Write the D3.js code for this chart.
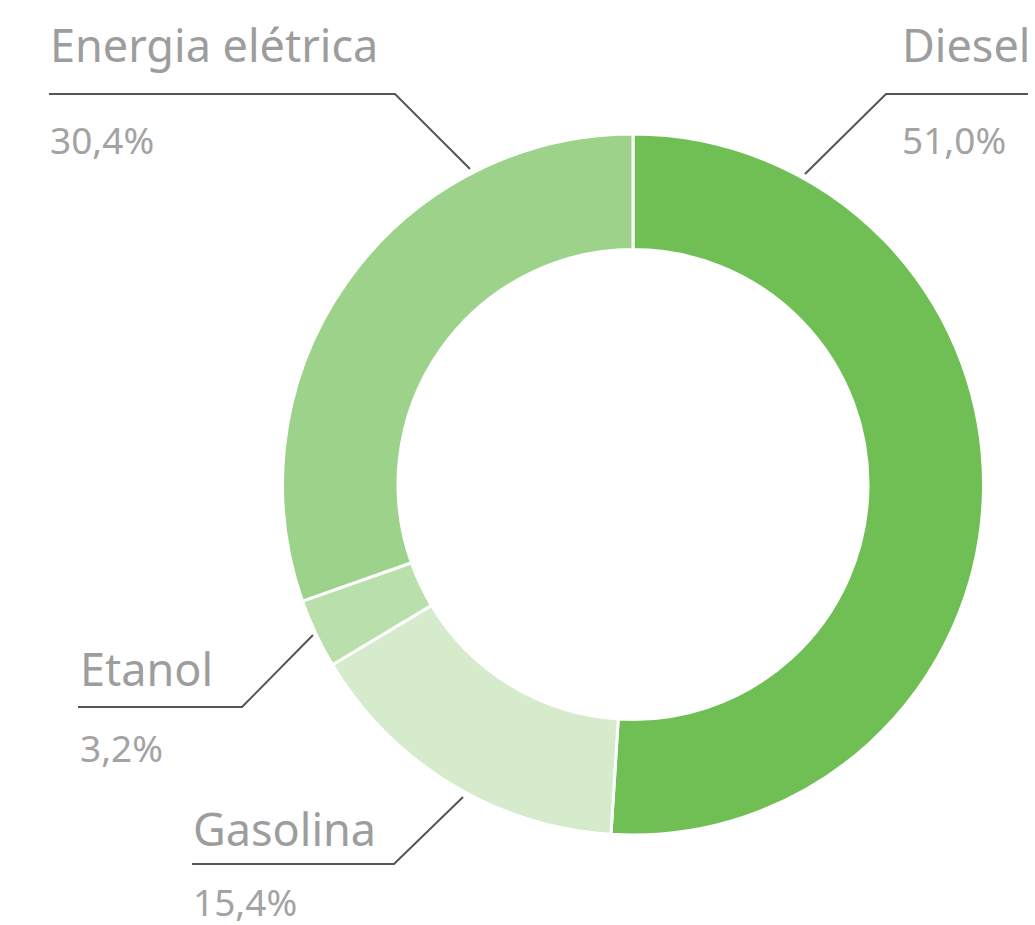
<!DOCTYPE html>
<html lang="pt">
    <head>
        <meta charset="utf-8">
        <title>Consumo por fonte</title>
        <script type="text/javascript" src="https://cdn.jsdelivr.net/npm/d3@7"></script>
        <style>
            body { margin: 0; background: #fff; }
        </style>
    </head>
    <body>
        <script type="text/javascript">

        //Width and height
        var w = 1035;
        var h = 925;

        //Data, clockwise from the top
        var categories = ["Diesel", "Gasolina", "Etanol", "Energia elétrica"];
        var values = [51.0, 15.4, 3.2, 30.4];
        var percentLabels = ["51,0%", "15,4%", "3,2%", "30,4%"];
        var colors = ["#70bf54", "#d5ebcc", "#b9e0aa", "#9dd28a"];

        //Label layout: text anchor x, name baseline, rule y, rule ends, leader tip
        var labelLayout = [
            { x: 902, y: 62, ruleY: 94, x0: 1028, x1: 886, tip: [805, 174], pctY: 154 },
            { x: 193, y: 846, ruleY: 864, x0: 192, x1: 394, tip: [463, 797], pctY: 916 },
            { x: 80, y: 686, ruleY: 707, x0: 78, x1: 242, tip: [313, 635], pctY: 762 },
            { x: 50, y: 62, ruleY: 94, x0: 49, x1: 395, tip: [470, 169], pctY: 154 }
        ];

        var cx = 633, cy = 484.5;
        var outerR = 350.5, innerR = 235;

        var dataset = categories.map(function(c, i) {
            return { name: c, value: values[i], pct: percentLabels[i], color: colors[i], lay: labelLayout[i] };
        });

        var pie = d3.pie()
            .sort(null)
            .value(function(d) { return d.value; });

        var arc = d3.arc()
            .innerRadius(innerR)
            .outerRadius(outerR);

        //Create SVG element
        var svg = d3.select("body")
            .append("svg")
            .attr("width", w)
            .attr("height", h);

        //Donut slices
        svg.append("g")
            .attr("transform", "translate(" + cx + "," + cy + ")")
            .selectAll("path")
            .data(pie(dataset))
            .enter()
            .append("path")
            .attr("d", arc)
            .attr("fill", function(d) { return d.data.color; })
            .attr("stroke", "#fff")
            .attr("stroke-width", 3);

        //Leader lines
        svg.selectAll("polyline.leader")
            .data(dataset)
            .enter()
            .append("polyline")
            .attr("class", "leader")
            .attr("points", function(d) {
                var l = d.lay;
                return [[l.x0, l.ruleY], [l.x1, l.ruleY], l.tip].join(" ");
            })
            .attr("fill", "none")
            .attr("stroke", "#555")
            .attr("stroke-width", 2);

        //Category names
        svg.selectAll("text.name")
            .data(dataset)
            .enter()
            .append("text")
            .attr("class", "name")
            .text(function(d) { return d.name; })
            .attr("x", function(d) { return d.lay.x; })
            .attr("y", function(d) { return d.lay.y; })
            .attr("font-family", "'Noto Sans', sans-serif")
            .attr("font-size", "45px")
            .attr("fill", "#9d9d9d");

        //Percentages
        svg.selectAll("text.pct")
            .data(dataset)
            .enter()
            .append("text")
            .attr("class", "pct")
            .text(function(d) { return d.pct; })
            .attr("x", function(d) { return d.lay.x; })
            .attr("y", function(d) { return d.lay.pctY; })
            .attr("font-family", "'Noto Sans', sans-serif")
            .attr("font-size", "37px")
            .attr("fill", "#a3a3a3");

        </script>
    </body>
</html>
